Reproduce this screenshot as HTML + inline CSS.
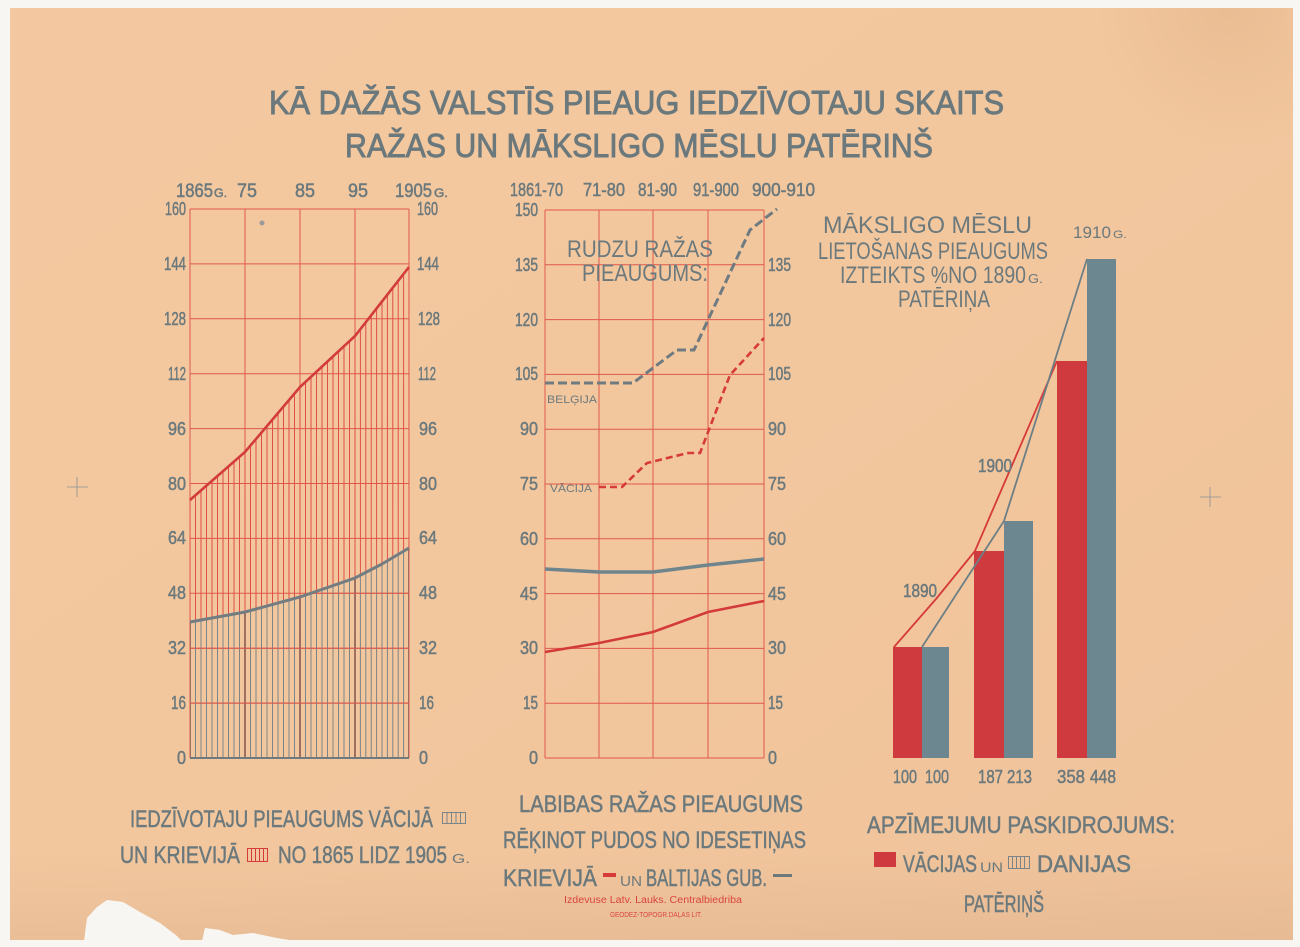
<!DOCTYPE html>
<html>
<head>
<meta charset="utf-8">
<style>
  html,body{margin:0;padding:0;background:#f7f6f3;}
  svg{display:block;}
  text{font-family:"Liberation Sans","DejaVu Sans",sans-serif;fill:#6b797d;}
  .hv{stroke:#6b797d;stroke-width:0.5;}
</style>
</head>
<body>
<svg width="1300" height="947" viewBox="0 0 1300 947" xmlns="http://www.w3.org/2000/svg">
  <defs>
    <linearGradient id="paperG" x1="0" y1="0" x2="1" y2="1">
      <stop offset="0" stop-color="#f3c8a0"/>
      <stop offset="0.5" stop-color="#f3c79e"/>
      <stop offset="1" stop-color="#efc29a"/>
    </linearGradient>
    <radialGradient id="topR" cx="1230" cy="8" r="140" gradientUnits="userSpaceOnUse">
      <stop offset="0" stop-color="#d9a97e" stop-opacity="0.35"/>
      <stop offset="1" stop-color="#d9a97e" stop-opacity="0"/>
    </radialGradient>
    <linearGradient id="botBand" x1="0" y1="850" x2="0" y2="940" gradientUnits="userSpaceOnUse">
      <stop offset="0" stop-color="#c9a07e" stop-opacity="0"/>
      <stop offset="1" stop-color="#c9a07e" stop-opacity="0.22"/>
    </linearGradient>
    <clipPath id="redArea">
      <polygon points="190,500 245,452 300,387 355,336 409,267 409,548 355,578 300,597 245,612 190,622"/>
    </clipPath>
    <clipPath id="grayArea">
      <polygon points="190,622 245,612 300,597 355,578 409,548 409,758 190,758"/>
    </clipPath>
  </defs>

  <!-- paper -->
  <rect x="0" y="0" width="1300" height="947" fill="#f7f6f3"/>
  <rect x="10" y="8" width="1283" height="932" fill="url(#paperG)"/>
  <rect x="10" y="8" width="1283" height="932" fill="url(#topR)"/>
  <rect x="10" y="850" width="1283" height="90" fill="url(#botBand)"/>
  <!-- tears -->
  <polygon points="84,941 87,918 97,907 107,900 123,902 140,912 160,923 177,936 182,941" fill="#f7f6f3"/>
  <polygon points="202,941 205,928 220,930 233,935 253,933 277,938 296,941" fill="#f7f6f3"/>

  <!-- registration marks -->
  <path d="M67 487H88M77 477V497" stroke="#8a9296" stroke-width="0.8"/>
  <path d="M1200 497H1221M1210 487V507" stroke="#8a9296" stroke-width="0.8"/>
  <circle cx="262" cy="223" r="2.5" fill="#9a9a9a"/>

  <!-- TITLE -->
  <text class="hv" x="269" y="114" font-size="33" textLength="735" lengthAdjust="spacingAndGlyphs" style="stroke-width:0.9">KĀ DAŽĀS VALSTĪS PIEAUG IEDZĪVOTAJU SKAITS</text>
  <text class="hv" x="345" y="157" font-size="33" textLength="588" lengthAdjust="spacingAndGlyphs" style="stroke-width:0.9">RAŽAS UN MĀKSLIGO MĒSLU PATĒRINŠ</text>

  <!-- ================= LEFT CHART ================= -->
  <g stroke="#e0584c" stroke-width="1" fill="none">
    <path d="M190 209H409M190 263.9H409M190 318.8H409M190 373.7H409M190 428.6H409M190 483.5H409M190 538.4H409M190 593.3H409M190 648.2H409M190 703.1H409"/>
    <path d="M190 209V758M245 209V758M300 209V758M355 209V758M409 209V758"/>
  </g>
  <g clip-path="url(#redArea)">
    <path stroke="#df4f47" stroke-width="1" d="M190 200V760M195.5 200V760M201 200V760M206.5 200V760M212 200V760M217.5 200V760M223 200V760M228.5 200V760M234 200V760M239.5 200V760M245 200V760M250.5 200V760M256 200V760M261.5 200V760M267 200V760M272.5 200V760M278 200V760M283.5 200V760M289 200V760M294.5 200V760M300 200V760M305.5 200V760M311 200V760M316.5 200V760M322 200V760M327.5 200V760M333 200V760M338.5 200V760M344 200V760M349.5 200V760M355 200V760M360.4 200V760M365.8 200V760M371.2 200V760M376.6 200V760M382 200V760M387.4 200V760M392.8 200V760M398.2 200V760M403.6 200V760M409 200V760"/>
  </g>
  <g clip-path="url(#grayArea)">
    <path stroke="#7b8487" stroke-width="1" d="M190 200V760M195.5 200V760M201 200V760M206.5 200V760M212 200V760M217.5 200V760M223 200V760M228.5 200V760M234 200V760M239.5 200V760M245 200V760M250.5 200V760M256 200V760M261.5 200V760M267 200V760M272.5 200V760M278 200V760M283.5 200V760M289 200V760M294.5 200V760M300 200V760M305.5 200V760M311 200V760M316.5 200V760M322 200V760M327.5 200V760M333 200V760M338.5 200V760M344 200V760M349.5 200V760M355 200V760M360.4 200V760M365.8 200V760M371.2 200V760M376.6 200V760M382 200V760M387.4 200V760M392.8 200V760M398.2 200V760M403.6 200V760M409 200V760"/>
    <path stroke="#8a5a55" stroke-width="1.6" d="M190 200V760M245 200V760M300 200V760M355 200V760M409 200V760"/>
    <path stroke="#d8564b" stroke-width="1" d="M190 593.3H409M190 648.2H409M190 703.1H409"/>
  </g>
  <path d="M190 758H409" stroke="#6f7a7e" stroke-width="2"/>
  <polyline points="190,622 245,612 300,597 355,578 382,564 409,548" fill="none" stroke="#737d81" stroke-width="3"/>
  <polyline points="190,500 245,452 300,387 355,336 409,267" fill="none" stroke="#d23c3c" stroke-width="2.6"/>

  <!-- left chart top labels -->
  <g class="hv">
  <text x="176" y="197" font-size="19" textLength="37" lengthAdjust="spacingAndGlyphs">1865</text>
  <text x="214" y="197" font-size="12" textLength="13" lengthAdjust="spacingAndGlyphs">G.</text>
  <text x="237" y="197" font-size="19" textLength="20" lengthAdjust="spacingAndGlyphs">75</text>
  <text x="295" y="197" font-size="19" textLength="20" lengthAdjust="spacingAndGlyphs">85</text>
  <text x="348" y="197" font-size="19" textLength="20" lengthAdjust="spacingAndGlyphs">95</text>
  <text x="395" y="197" font-size="19" textLength="37" lengthAdjust="spacingAndGlyphs">1905</text>
  <text x="434" y="197" font-size="12" textLength="14" lengthAdjust="spacingAndGlyphs">G.</text>
  </g>

  <!-- left chart y labels -->
  <g font-size="18" class="hv">
    <text x="186" y="215" text-anchor="end" textLength="21" lengthAdjust="spacingAndGlyphs">160</text>
    <text x="186" y="270" text-anchor="end" textLength="22" lengthAdjust="spacingAndGlyphs">144</text>
    <text x="186" y="325" text-anchor="end" textLength="22" lengthAdjust="spacingAndGlyphs">128</text>
    <text x="186" y="380" text-anchor="end" textLength="18" lengthAdjust="spacingAndGlyphs">112</text>
    <text x="186" y="435" text-anchor="end" textLength="18" lengthAdjust="spacingAndGlyphs">96</text>
    <text x="186" y="490" text-anchor="end" textLength="18" lengthAdjust="spacingAndGlyphs">80</text>
    <text x="186" y="544" text-anchor="end" textLength="18" lengthAdjust="spacingAndGlyphs">64</text>
    <text x="186" y="599" text-anchor="end" textLength="18" lengthAdjust="spacingAndGlyphs">48</text>
    <text x="186" y="654" text-anchor="end" textLength="18" lengthAdjust="spacingAndGlyphs">32</text>
    <text x="186" y="709" text-anchor="end" textLength="15" lengthAdjust="spacingAndGlyphs">16</text>
    <text x="186" y="764" text-anchor="end" textLength="9" lengthAdjust="spacingAndGlyphs">0</text>

    <text x="417" y="215" textLength="21" lengthAdjust="spacingAndGlyphs">160</text>
    <text x="417" y="270" textLength="22" lengthAdjust="spacingAndGlyphs">144</text>
    <text x="418" y="325" textLength="22" lengthAdjust="spacingAndGlyphs">128</text>
    <text x="418" y="380" textLength="18" lengthAdjust="spacingAndGlyphs">112</text>
    <text x="419" y="435" textLength="18" lengthAdjust="spacingAndGlyphs">96</text>
    <text x="419" y="490" textLength="18" lengthAdjust="spacingAndGlyphs">80</text>
    <text x="419" y="544" textLength="18" lengthAdjust="spacingAndGlyphs">64</text>
    <text x="419" y="599" textLength="18" lengthAdjust="spacingAndGlyphs">48</text>
    <text x="419" y="654" textLength="18" lengthAdjust="spacingAndGlyphs">32</text>
    <text x="419" y="709" textLength="15" lengthAdjust="spacingAndGlyphs">16</text>
    <text x="419" y="764" textLength="9" lengthAdjust="spacingAndGlyphs">0</text>
  </g>

  <!-- ================= MIDDLE CHART ================= -->
  <g stroke="#e0584c" stroke-width="1" fill="none">
    <path d="M545 210H764M545 264.8H764M545 319.6H764M545 374.4H764M545 429.2H764M545 484H764M545 538.8H764M545 593.6H764M545 648.4H764M545 703.2H764M545 758H764"/>
    <path d="M545 210V758M599 210V758M653 210V758M708 210V758M764 210V758"/>
  </g>

  <text x="567" y="257" font-size="24" textLength="146" lengthAdjust="spacingAndGlyphs">RUDZU RAŽAS</text>
  <text x="582" y="281" font-size="24" textLength="126" lengthAdjust="spacingAndGlyphs">PIEAUGUMS:</text>

  <polyline points="545,383 633,383 677,350 694,350 750,230 764,219 777,209" fill="none" stroke="#6f7b80" stroke-width="3" stroke-dasharray="9,4"/>
  <polyline points="599,487 622,487 647,463 688,453 700,453 730,375 764,338" fill="none" stroke="#d63a3a" stroke-width="2.6" stroke-dasharray="7,4"/>
  <polyline points="545,569 599,572 653,572 708,565 764,559" fill="none" stroke="#6f858d" stroke-width="3.5"/>
  <polyline points="545,652 599,643 653,632 708,612 764,601" fill="none" stroke="#d33a3a" stroke-width="2.6"/>

  <text x="547" y="403" font-size="11" textLength="50" lengthAdjust="spacingAndGlyphs">BELĢIJA</text>
  <text x="550" y="492" font-size="11" textLength="42" lengthAdjust="spacingAndGlyphs">VĀCIJA</text>

  <g font-size="18" class="hv">
    <text x="510" y="196" textLength="53" lengthAdjust="spacingAndGlyphs">1861-70</text>
    <text x="583" y="196" textLength="42" lengthAdjust="spacingAndGlyphs">71-80</text>
    <text x="638" y="196" textLength="39" lengthAdjust="spacingAndGlyphs">81-90</text>
    <text x="693" y="196" textLength="46" lengthAdjust="spacingAndGlyphs">91-900</text>
    <text x="752" y="196" textLength="63" lengthAdjust="spacingAndGlyphs">900-910</text>
  </g>

  <g font-size="18" class="hv">
    <text x="538" y="216" text-anchor="end" textLength="23" lengthAdjust="spacingAndGlyphs">150</text>
    <text x="538" y="271" text-anchor="end" textLength="23" lengthAdjust="spacingAndGlyphs">135</text>
    <text x="538" y="326" text-anchor="end" textLength="23" lengthAdjust="spacingAndGlyphs">120</text>
    <text x="538" y="380" text-anchor="end" textLength="23" lengthAdjust="spacingAndGlyphs">105</text>
    <text x="538" y="435" text-anchor="end" textLength="18" lengthAdjust="spacingAndGlyphs">90</text>
    <text x="538" y="490" text-anchor="end" textLength="18" lengthAdjust="spacingAndGlyphs">75</text>
    <text x="538" y="545" text-anchor="end" textLength="18" lengthAdjust="spacingAndGlyphs">60</text>
    <text x="538" y="600" text-anchor="end" textLength="18" lengthAdjust="spacingAndGlyphs">45</text>
    <text x="538" y="654" text-anchor="end" textLength="18" lengthAdjust="spacingAndGlyphs">30</text>
    <text x="538" y="709" text-anchor="end" textLength="15" lengthAdjust="spacingAndGlyphs">15</text>
    <text x="538" y="764" text-anchor="end" textLength="9" lengthAdjust="spacingAndGlyphs">0</text>

    <text x="768" y="271" textLength="23" lengthAdjust="spacingAndGlyphs">135</text>
    <text x="768" y="326" textLength="23" lengthAdjust="spacingAndGlyphs">120</text>
    <text x="768" y="380" textLength="23" lengthAdjust="spacingAndGlyphs">105</text>
    <text x="768" y="435" textLength="18" lengthAdjust="spacingAndGlyphs">90</text>
    <text x="768" y="490" textLength="18" lengthAdjust="spacingAndGlyphs">75</text>
    <text x="768" y="545" textLength="18" lengthAdjust="spacingAndGlyphs">60</text>
    <text x="768" y="600" textLength="18" lengthAdjust="spacingAndGlyphs">45</text>
    <text x="768" y="654" textLength="18" lengthAdjust="spacingAndGlyphs">30</text>
    <text x="768" y="709" textLength="15" lengthAdjust="spacingAndGlyphs">15</text>
    <text x="768" y="764" textLength="9" lengthAdjust="spacingAndGlyphs">0</text>
  </g>

  <!-- ================= RIGHT CHART ================= -->
  <g font-size="24">
    <text x="823" y="233" textLength="209" lengthAdjust="spacingAndGlyphs">MĀKSLIGO MĒSLU</text>
    <text x="818" y="259" textLength="230" lengthAdjust="spacingAndGlyphs">LIETOŠANAS PIEAUGUMS</text>
    <text x="840" y="283" textLength="186" lengthAdjust="spacingAndGlyphs">IZTEIKTS %NO 1890</text>
    <text x="898" y="307" textLength="92" lengthAdjust="spacingAndGlyphs">PATĒRIŅA</text>
  </g>
  <text x="1028" y="283" font-size="13" textLength="15" lengthAdjust="spacingAndGlyphs">G.</text>

  <text x="1073" y="238" font-size="17" textLength="38" lengthAdjust="spacingAndGlyphs">1910</text>
  <text x="1113" y="238" font-size="11" textLength="14" lengthAdjust="spacingAndGlyphs">G.</text>

  <rect x="893" y="647" width="29" height="111" fill="#cf3a3f"/>
  <rect x="922" y="647" width="27" height="111" fill="#6c8790"/>
  <rect x="974" y="551" width="30" height="207" fill="#cf3a3f"/>
  <rect x="1004" y="521" width="29" height="237" fill="#6c8790"/>
  <rect x="1057" y="361" width="30" height="397" fill="#cf3a3f"/>
  <rect x="1087" y="259" width="29" height="499" fill="#6c8790"/>

  <polyline points="894,647 936,599 975,551 1057,361" fill="none" stroke="#d63a3a" stroke-width="1.8"/>
  <polyline points="922,647 1004,521 1087,259" fill="none" stroke="#6c7f86" stroke-width="1.8"/>

  <g font-size="18" class="hv">
    <text x="978" y="472" textLength="34" lengthAdjust="spacingAndGlyphs">1900</text>
    <text x="903" y="597" textLength="34" lengthAdjust="spacingAndGlyphs">1890</text>
    <text x="893" y="783" textLength="24" lengthAdjust="spacingAndGlyphs">100</text>
    <text x="925" y="783" textLength="24" lengthAdjust="spacingAndGlyphs">100</text>
    <text x="978" y="783" textLength="25" lengthAdjust="spacingAndGlyphs">187</text>
    <text x="1007" y="783" textLength="25" lengthAdjust="spacingAndGlyphs">213</text>
    <text x="1057" y="783" textLength="28" lengthAdjust="spacingAndGlyphs">358</text>
    <text x="1090" y="783" textLength="26" lengthAdjust="spacingAndGlyphs">448</text>
  </g>

  <!-- ================= BOTTOM TEXTS ================= -->
  <g font-size="24" class="hv">
    <text x="130" y="827" textLength="303" lengthAdjust="spacingAndGlyphs">IEDZĪVOTAJU PIEAUGUMS VĀCIJĀ</text>
    <text x="120" y="863" textLength="120" lengthAdjust="spacingAndGlyphs">UN KRIEVIJĀ</text>
    <text x="278" y="863" textLength="169" lengthAdjust="spacingAndGlyphs">NO 1865 LIDZ 1905</text>

    <text x="519" y="812" textLength="284" lengthAdjust="spacingAndGlyphs">LABIBAS RAŽAS PIEAUGUMS</text>
    <text x="503" y="848" textLength="303" lengthAdjust="spacingAndGlyphs">RĒĶINOT PUDOS NO IDESETIŅAS</text>
    <text x="503" y="886" textLength="94" lengthAdjust="spacingAndGlyphs">KRIEVIJĀ</text>
    <text x="646" y="886" textLength="121" lengthAdjust="spacingAndGlyphs">BALTIJAS GUB.</text>

    <text x="867" y="833" textLength="308" lengthAdjust="spacingAndGlyphs">APZĪMEJUMU PASKIDROJUMS:</text>
    <text x="903" y="872" textLength="74" lengthAdjust="spacingAndGlyphs">VĀCIJAS</text>
    <text x="1037" y="872" textLength="94" lengthAdjust="spacingAndGlyphs">DANIJAS</text>
    <text x="964" y="912" textLength="80" lengthAdjust="spacingAndGlyphs">PATĒRIŅŠ</text>
  </g>
  <text x="452" y="863" font-size="13" textLength="18" lengthAdjust="spacingAndGlyphs">G.</text>
  <text x="620" y="886" font-size="15" textLength="22" lengthAdjust="spacingAndGlyphs">UN</text>
  <text x="980" y="872" font-size="14" textLength="23" lengthAdjust="spacingAndGlyphs">UN</text>

  <!-- legend swatches -->
  <g fill="none" stroke="#7b8487" stroke-width="1">
    <rect x="442.5" y="812.5" width="23" height="11"/>
    <path d="M447 813V824M451.5 813V824M456 813V824M460.5 813V824"/>
  </g>
  <g fill="none" stroke="#d63a3a" stroke-width="1">
    <rect x="247.5" y="848.5" width="20" height="13"/>
    <path d="M251.5 849V862M255.5 849V862M259.5 849V862M263.5 849V862"/>
  </g>
  <g fill="none" stroke="#7b8487" stroke-width="1">
    <rect x="1008.5" y="856.5" width="21" height="12"/>
    <path d="M1012.5 857V869M1016.5 857V869M1020.5 857V869M1024.5 857V869"/>
  </g>
  <rect x="874" y="852" width="22" height="15" fill="#cf3a3f"/>
  <rect x="603" y="873" width="13" height="4" fill="#d63a3a"/>
  <rect x="773" y="874" width="19" height="3" fill="#6b797d"/>

  <text x="564" y="903" font-size="10" textLength="178" lengthAdjust="spacingAndGlyphs" style="fill:#d9443e">Izdevuse  Latv.  Lauks.  Centralbiedriba</text>
  <text x="610" y="917" font-size="7" textLength="92" lengthAdjust="spacingAndGlyphs" style="fill:#d9443e">GEODEZ-TOPOGR.DAĻAS LIT.</text>
</svg>
</body>
</html>
